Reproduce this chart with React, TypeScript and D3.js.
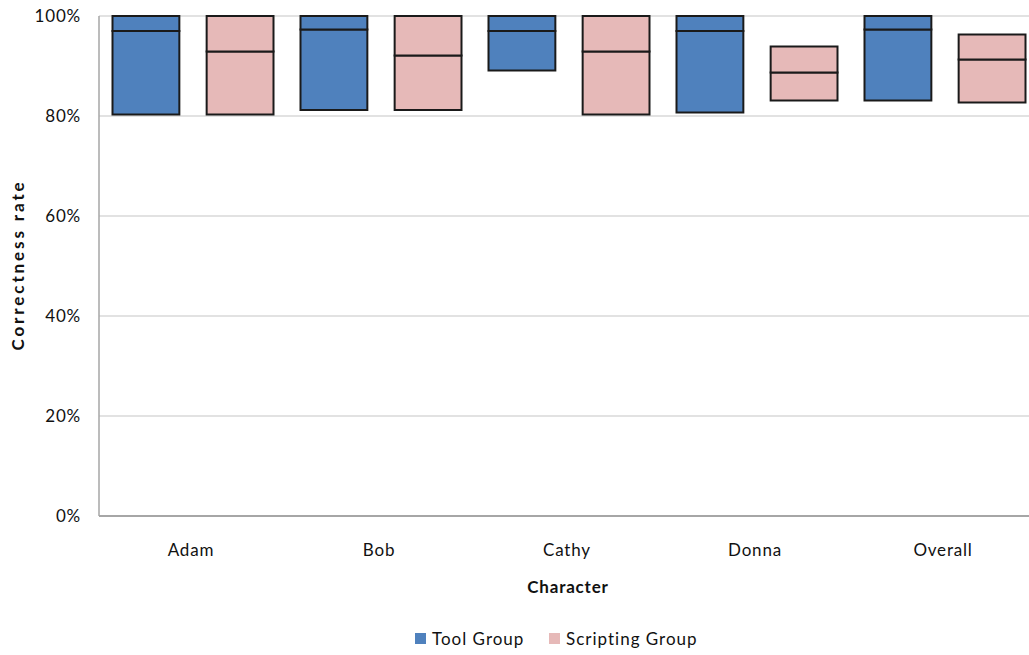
import React, { useRef, useEffect } from 'react';
import * as d3 from 'd3';

// categories on the x axis
const characters = ['Adam', 'Bob', 'Cathy', 'Donna', 'Overall'];
const seriesNames = ['Tool Group', 'Scripting Group'];

// correctness rate (%): low / middle / high for each group
const toolLow = [80.3, 81.2, 89.1, 80.7, 83.1];
const toolMid = [97.0, 97.3, 97.0, 97.0, 97.3];
const toolHigh = [100, 100, 100, 100, 100];

const scriptLow = [80.3, 81.2, 80.3, 83.1, 82.7];
const scriptMid = [92.9, 92.1, 92.9, 88.7, 91.3];
const scriptHigh = [100, 100, 100, 93.9, 96.3];

const yTicks = [0, 20, 40, 60, 80, 100];

const colors = ['#4F81BD', '#E6B9B8'];
const font = 'Lato, "Open Sans", sans-serif';

const App = () => {
  const ref = useRef<SVGSVGElement>(null);

  useEffect(() => {
    const width = 1029;
    const height = 655;
    const margin = { top: 16, left: 99, bottom: 139 };
    const plotRight = 1039; // plot area runs a little past the picture edge

    const svg = d3.select(ref.current);
    svg.selectAll('*').remove();

    const x = d3.scaleBand().domain(characters).range([margin.left, plotRight]);
    const inner = d3
      .scaleBand()
      .domain(seriesNames)
      .range([13.5, x.bandwidth() - 13.5])
      .paddingInner(0.29);
    const y = d3.scaleLinear().domain([0, 100]).range([height - margin.bottom, margin.top]);

    // gridlines
    svg
      .append('g')
      .selectAll('line')
      .data(yTicks.filter((t) => t > 0))
      .enter()
      .append('line')
      .attr('x1', margin.left)
      .attr('x2', plotRight)
      .attr('y1', (d) => y(d))
      .attr('y2', (d) => y(d))
      .attr('stroke', '#d9d9d9')
      .attr('stroke-width', 1.5);

    // axes lines
    svg
      .append('line')
      .attr('x1', margin.left)
      .attr('x2', margin.left)
      .attr('y1', y(100))
      .attr('y2', y(0))
      .attr('stroke', '#a6a6a6')
      .attr('stroke-width', 1.5);
    svg
      .append('line')
      .attr('x1', margin.left)
      .attr('x2', plotRight)
      .attr('y1', y(0))
      .attr('y2', y(0))
      .attr('stroke', '#a6a6a6')
      .attr('stroke-width', 2);

    // y tick labels
    svg
      .append('g')
      .selectAll('text')
      .data(yTicks)
      .enter()
      .append('text')
      .attr('x', 81)
      .attr('y', (d) => y(d))
      .attr('dy', '0.35em')
      .attr('text-anchor', 'end')
      .attr('font-family', font)
      .attr('font-size', 17)
      .attr('letter-spacing', 0.8)
      .attr('fill', '#111')
      .text((d) => `${d}%`);

    // bars: lower box low..mid, upper box mid..high
    const series = [
      { name: seriesNames[0], low: toolLow, mid: toolMid, high: toolHigh },
      { name: seriesNames[1], low: scriptLow, mid: scriptMid, high: scriptHigh },
    ];
    series.forEach((s, si) => {
      const g = svg.append('g');
      characters.forEach((c, i) => {
        const bx = (x(c) as number) + (inner(s.name) as number);
        const segs = [
          [s.low[i], s.mid[i]],
          [s.mid[i], s.high[i]],
        ];
        segs.forEach(([a, b]) => {
          g.append('rect')
            .attr('x', bx)
            .attr('y', y(b))
            .attr('width', inner.bandwidth())
            .attr('height', y(a) - y(b))
            .attr('fill', colors[si])
            .attr('stroke', '#1a1a1a')
            .attr('stroke-width', 2);
        });
      });
    });

    // x labels
    svg
      .append('g')
      .selectAll('text')
      .data(characters)
      .enter()
      .append('text')
      .attr('x', (d) => (x(d) as number) + x.bandwidth() / 2 - 2)
      .attr('y', 556)
      .attr('text-anchor', 'middle')
      .attr('font-family', font)
      .attr('font-size', 17)
      .attr('letter-spacing', 0.8)
      .attr('fill', '#111')
      .text((d) => d);

    // axis titles
    svg
      .append('text')
      .attr('x', 568)
      .attr('y', 593)
      .attr('text-anchor', 'middle')
      .attr('font-family', font)
      .attr('font-size', 17)
      .attr('letter-spacing', 0.8)
      .attr('font-weight', 'bold')
      .attr('fill', '#111')
      .text('Character');
    svg
      .append('text')
      .attr('transform', `translate(24, 265) rotate(-90)`)
      .attr('text-anchor', 'middle')
      .attr('font-family', font)
      .attr('font-size', 17)
      .attr('letter-spacing', 2.9)
      .attr('font-weight', 'bold')
      .attr('fill', '#111')
      .text('Correctness rate');

    // legend
    const legendX = [415, 549];
    seriesNames.forEach((name, i) => {
      svg
        .append('rect')
        .attr('x', legendX[i])
        .attr('y', 633)
        .attr('width', 11)
        .attr('height', 11)
        .attr('fill', colors[i]);
      svg
        .append('text')
        .attr('x', legendX[i] + 17)
        .attr('y', 645)
        .attr('font-family', font)
        .attr('font-size', 17)
        .attr('letter-spacing', 1)
        .attr('fill', '#111')
        .text(name);
    });

    svg.attr('width', width).attr('height', height);
  }, []);

  return (
    <div style={{ position: 'absolute', left: 0, top: 0 }}>
      <svg ref={ref} width={1029} height={655} style={{ display: 'block' }} />
    </div>
  );
};

export default App;
